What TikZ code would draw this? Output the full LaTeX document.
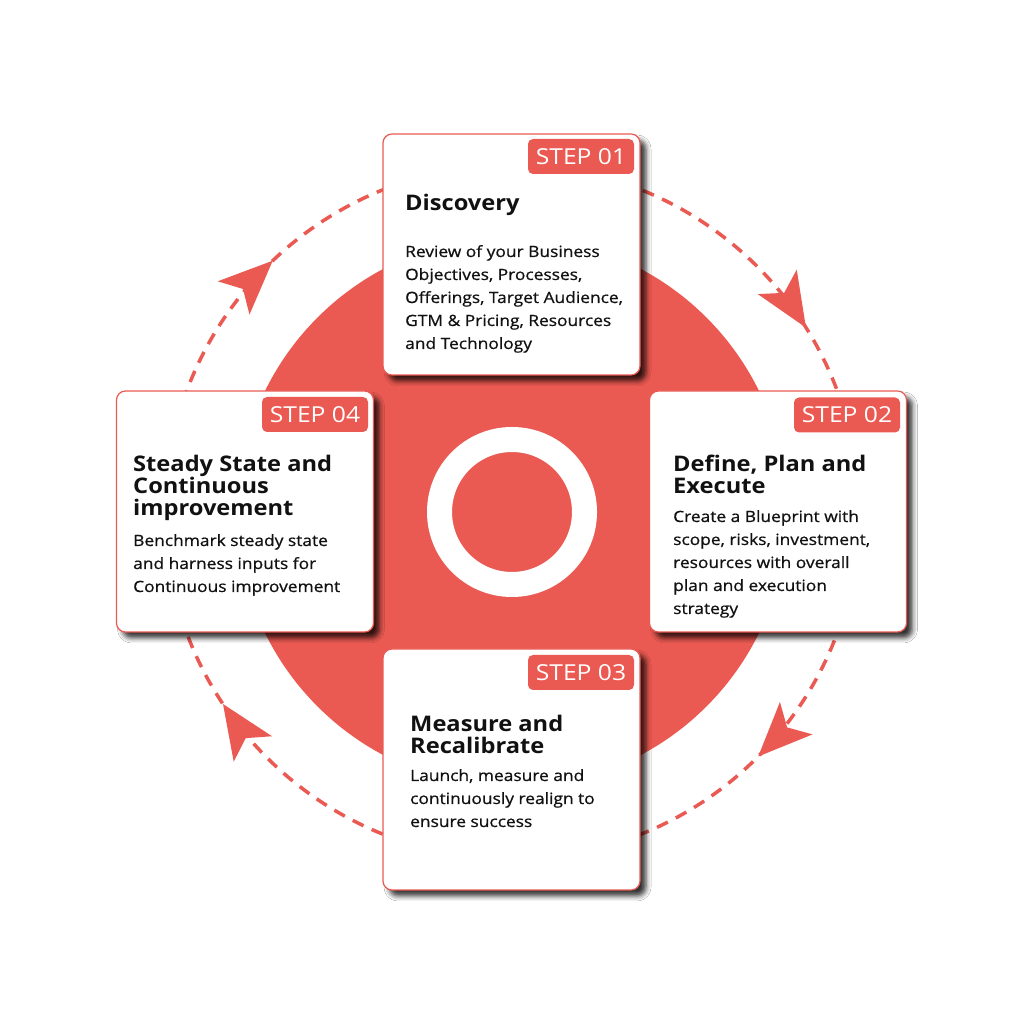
\documentclass[tikz,border=0pt]{standalone}
\usepackage{fontspec}
\setmainfont{Open Sans}
\newfontfamily\bodyfnt{Open Sans}[FakeStretch=1.12, FakeBold=0.7]
\newfontfamily\titlefnt{Open Sans Bold}[FakeStretch=1.1]
\newfontfamily\badgefnt{Open Sans}[FakeStretch=1.12]
\usetikzlibrary{shadows.blur,calc}
\definecolor{brand}{HTML}{EB5A52}
\definecolor{ink}{HTML}{111111}
\newcommand{\ttlbox}[1]{\parbox[t]{250pt}{\raggedright\titlefnt\fontsize{21.5}{22}\selectfont #1}}
\newcommand{\bdybox}[1]{\parbox[t]{250pt}{\raggedright\bodyfnt\fontsize{15.5}{23}\selectfont #1}}
\tikzset{
  stepbox/.style={draw=brand, line width=1.2pt, fill=white, rounded corners=9pt,
    minimum width=257pt, minimum height=241pt, inner sep=0pt,
    blur shadow={shadow xshift=6pt, shadow yshift=-6pt, shadow blur radius=5pt, shadow opacity=80}},
  badge/.style={fill=brand, rounded corners=5pt, minimum width=106pt, minimum height=35pt,
    inner sep=0pt, text=white, font=\badgefnt\fontsize{22}{22}\selectfont},
  txt/.style={anchor=base west, inner sep=0pt, text=ink},
  arrowhead/.style={fill=brand}
}
\begin{document}
\begin{tikzpicture}[x=1pt,y=1pt]
\path[use as bounding box, fill=white] (0,0) rectangle (1024,1024);
\coordinate (C) at (512,512);
% dashed cycle
\draw[brand, line width=3.5pt, dash pattern=on 12pt off 9pt] (C) circle [radius=347pt];
% arrowheads
\foreach \a in {32.1,-44.8,213.6,133.6}{
  \begin{scope}[shift={($(C)+(\a:347pt)$)}, rotate=\a-90]
    \fill[arrowhead] (0,0) -- (-54,23) -- (-41,0) -- (-54,-23) -- cycle;
  \end{scope}
}
% big disk and ring
\fill[brand] (C) circle [radius=275pt];
\draw[white, line width=25pt] (C) circle [radius=72.5pt];
% boxes
\node[stepbox] (b1) at (511.5,769.5) {};
\node[stepbox] (b2) at (778,512.5) {};
\node[stepbox] (b3) at (511.5,254.5) {};
\node[stepbox] (b4) at (245,512.5) {};
% badges
\node[badge] (s1) at (581,867.5) {STEP 01};
\node[badge] (s2) at (847,609) {STEP 02};
\node[badge] (s3) at (581,351.5) {STEP 03};
\node[badge] (s4) at (315,609.5) {STEP 04};
% texts
\node[txt] (t1) at (405,813) {\ttlbox{Discovery}};
\node[txt] (d1) at (405,767) {\bdybox{Review of your Business\\Objectives, Processes,\\Offerings, Target Audience,\\GTM \& Pricing, Resources\\and Technology}};
\node[txt] (t2) at (673,552) {\ttlbox{Define, Plan and\\Execute}};
\node[txt] (d2) at (673,502) {\bdybox{Create a Blueprint with\\scope, risks, investment,\\resources with overall\\plan and execution\\strategy}};
\node[txt] (t3) at (410,292) {\ttlbox{Measure and\\Recalibrate}};
\node[txt] (d3) at (410,243) {\bdybox{Launch, measure and\\continuously realign to\\ensure success}};
\node[txt] (t4) at (133,552) {\ttlbox{Steady State and\\Continuous\\improvement}};
\node[txt] (d4) at (133,478) {\bdybox{Benchmark steady state\\and harness inputs for\\Continuous improvement}};
\end{tikzpicture}
\end{document}
